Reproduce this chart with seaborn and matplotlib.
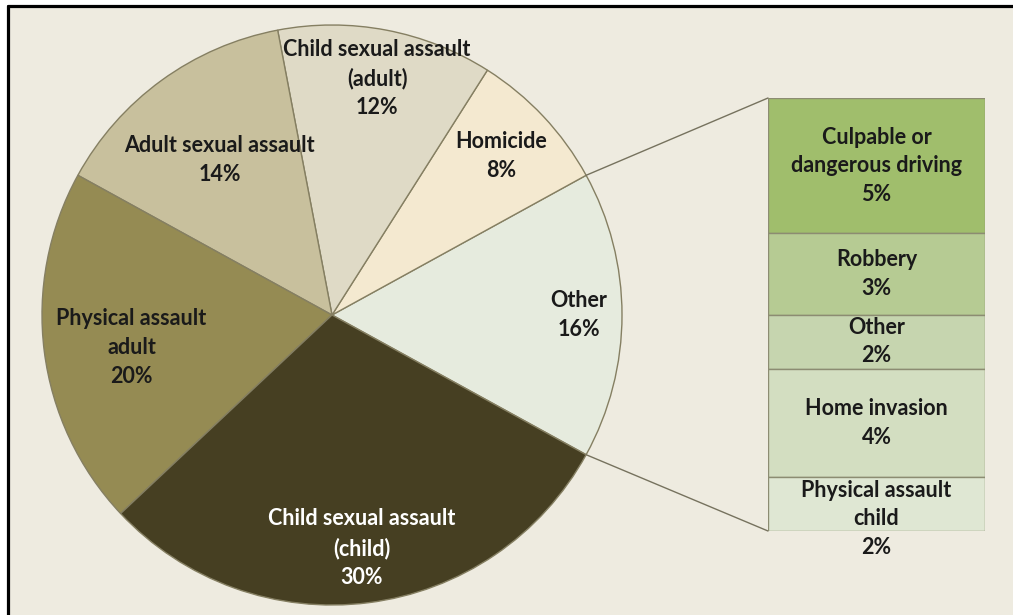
import numpy as np
import matplotlib
matplotlib.use("Agg")
import matplotlib.pyplot as plt
from matplotlib.patches import Rectangle
from matplotlib.lines import Line2D
import seaborn as sns

# ---- data -------------------------------------------------------------
pie_labels = ["Other", "Homicide", "Child sexual assault\n(adult)",
              "Adult sexual assault", "Physical assault\nadult",
              "Child sexual assault\n(child)"]
pie_values = [16, 8, 12, 14, 20, 30]

bar_labels = ["Culpable or\ndangerous driving", "Robbery", "Other",
              "Home invasion", "Physical assault\nchild"]
bar_values = [5, 3, 2, 4, 2]

# ---- style ------------------------------------------------------------
sns.set_theme(style="white")
plt.rcParams["font.family"] = ["Lato", "DejaVu Sans"]

pie_colors = sns.color_palette(["#E6EBDE", "#F4E9D0", "#DFDAC6",
                                "#C8C09D", "#958B53", "#463F22"])
bar_colors = sns.color_palette(["#A0BE6C", "#B6CB93", "#C6D5AF",
                                "#D3DEC1", "#DFE7D3"])
pie_text_colors = ["#1A1A1A"] * 5 + ["#FFFFFF"]
# radial distance (fraction of radius) and angular nudge (deg) of each slice label
label_dist = [0.85, 0.80, 0.83, 0.66, 0.70, 0.81]
label_nudge = [0, 0, 0, 0, 2, 0]
FS = 15.5
LS = 1.45

W, H = 1013, 615
BG = "#EEEBE0"
EDGE = "#857F62"

fig = plt.figure(figsize=(W / 100, H / 100), dpi=100, facecolor="white")
ax = fig.add_axes([0, 0, 1, 1])
ax.set_xlim(0, W)
ax.set_ylim(0, H)
ax.axis("off")

# panel background and its frame
ax.add_patch(Rectangle((8, 0), W - 8, H - 6, facecolor=BG, edgecolor="none", zorder=0))
fig.add_artist(Line2D([8 / W, 1], [1 - 6 / H, 1 - 6 / H], color="black", lw=2.3))
fig.add_artist(Line2D([8 / W, 8 / W], [0, 1 - 6 / H], color="black", lw=2.3))

# ---- pie --------------------------------------------------------------
cx, cy, r = 332, 300, 290
half_other = pie_values[0] / sum(pie_values) * 360 / 2
wedges, _ = ax.pie(pie_values, colors=pie_colors, startangle=-half_other,
                   counterclock=True, center=(cx, cy), radius=r,
                   wedgeprops=dict(edgecolor=EDGE, linewidth=1.0))
ax.set_xlim(0, W)
ax.set_ylim(0, H)
ax.set_aspect("auto")

for w, lab, val, d, nud, tc in zip(wedges, pie_labels, pie_values,
                                   label_dist, label_nudge, pie_text_colors):
    ang = np.deg2rad((w.theta1 + w.theta2) / 2 + nud)
    ax.text(cx + d * r * np.cos(ang), cy + d * r * np.sin(ang),
            f"{lab}\n{val}%", ha="center", va="center", fontsize=FS,
            fontweight="bold", color=tc, linespacing=LS, zorder=5)

# ---- stacked bar of the "Other" slice --------------------------------
bx0, by_top, bw, bh = 768, 98, 217, 433
ax_bar = fig.add_axes([bx0 / W, (H - by_top - bh) / H, bw / W, bh / H])
ax_bar.set_xlim(0, 1)
ax_bar.set_ylim(sum(bar_values), 0)
ax_bar.axis("off")
bottoms = np.concatenate([[0], np.cumsum(bar_values)[:-1]])
ax_bar.bar([0.5] * len(bar_values), bar_values, bottom=bottoms, width=1.0,
           color=bar_colors, edgecolor="#8C8C72", linewidth=1.0)
for lab, val, b in zip(bar_labels, bar_values, bottoms):
    nlines = lab.count("\n") + 2
    if nlines <= val:
        # label fits inside its segment: centre it there
        y, va = b + val / 2, "center"
    else:
        # taller than its segment: hang it from the segment top
        y, va = b + 0.1, "top"
    ax_bar.text(0.5, y, f"{lab}\n{val}%", ha="center", va=va,
                fontsize=FS, fontweight="bold", color="#1A1A1A",
                linespacing=LS, clip_on=False)

# connector lines from the "Other" slice to the bar
for sgn, by in [(1, H - by_top), (-1, H - by_top - bh)]:
    a = np.deg2rad(sgn * half_other)
    ax.plot([cx + r * np.cos(a), bx0], [cy + r * np.sin(a), by],
            color="#76725E", lw=1.0, zorder=3)

fig.savefig("out.png", dpi=100, facecolor=fig.get_facecolor())
